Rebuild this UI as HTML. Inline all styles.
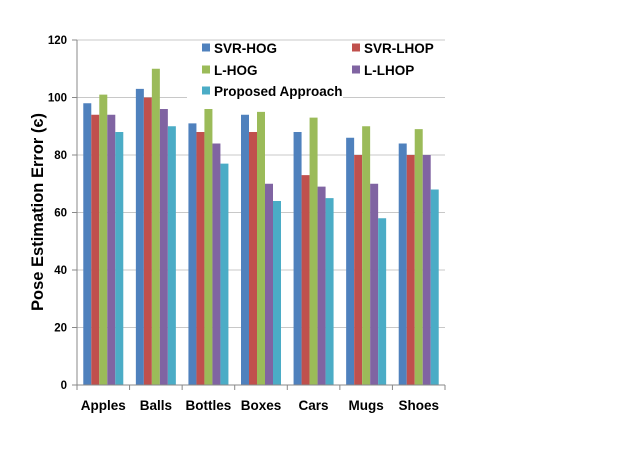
<!DOCTYPE html>
<html><head><meta charset="utf-8"><style>
body{margin:0;background:#fff;}
svg text{font-family:"Liberation Sans",sans-serif;font-weight:bold;fill:#000;}
</style></head><body>
<svg id="chart" width="623" height="450" xmlns="http://www.w3.org/2000/svg">
<g id="grid"></g>
<g id="bars"></g>
<g id="axes"></g>
<text x="43" y="212" transform="rotate(-90 43 212)" text-anchor="middle" font-size="16.5">Pose Estimation Error (є)</text>
<rect x="187" y="93" width="156" height="8" fill="#fff"/>
<g id="legend"></g>
</svg>
<script>
const categories=["Apples","Balls","Bottles","Boxes","Cars","Mugs","Shoes"];
const seriesNames=["SVR-HOG","SVR-LHOP","L-HOG","L-LHOP","Proposed Approach"];
const svrHog=[98,103,91,94,88,86,84];
const svrLhop=[94,100,88,88,73,80,80];
const lHog=[101,110,96,95,93,90,89];
const lLhop=[94,96,84,70,69,70,80];
const proposed=[88,90,77,64,65,58,68];
const yTicks=[0,20,40,60,80,100,120];
const series=[svrHog,svrLhop,lHog,lLhop,proposed];
const colors=["#4F81BD","#C0504D","#9BBB59","#8064A2","#4BACC6"];
const NS="http://www.w3.org/2000/svg";
const x0=77,x1=445,y0=385,yTop=40,yMax=120;
const y=v=>y0-(v/yMax)*(y0-yTop);
const bandW=(x1-x0)/categories.length;
const barW=8;
function mk(t,a,p){const e=document.createElementNS(NS,t);for(const k in a)e.setAttribute(k,a[k]);p.appendChild(e);return e;}
const grid=document.getElementById('grid'),bars=document.getElementById('bars'),axes=document.getElementById('axes'),legend=document.getElementById('legend');
yTicks.forEach(t=>{
 if(t>0){const l=mk('line',{x1:x0,x2:x1,y1:y(t),y2:y(t),stroke:'#c8c8c8','stroke-width':1},grid);
 
 }
 mk('line',{x1:x0-5,x2:x0,y1:y(t),y2:y(t),stroke:'#888'},axes);
 const tx=mk('text',{x:x0-10,y:y(t)+4,'text-anchor':'end','font-size':11.5},axes);tx.textContent=t;
 
 
});
mk('line',{x1:x0,x2:x0,y1:yTop,y2:y0,stroke:'#888'},axes);
mk('line',{x1:x0,x2:x1,y1:y0,y2:y0,stroke:'#888'},axes);
categories.forEach((c,i)=>{
 const bx=x0+i*bandW;
 mk('line',{x1:bx+bandW,x2:bx+bandW,y1:y0,y2:y0+5,stroke:'#888'},axes);
 const gx=bx+(bandW-barW*5)/2;
 series.forEach((s,j)=>{
  const r=mk('rect',{x:gx+j*barW,y:y(s[i]),width:barW,height:y0-y(s[i]),fill:colors[j]},bars);
  
  
 });
 const tx=mk('text',{x:bx+bandW/2,y:410,'text-anchor':'middle','font-size':13.5},axes);tx.textContent=c;
 
 
});
mk('line',{x1:x0,x2:x0,y1:y0,y2:y0+5,stroke:'#888'},axes);
const lpos=[[202,48],[352,48],[202,70],[352,70],[202,91]];
seriesNames.forEach((n,j)=>{
 const g=mk('g',{},legend);
 
 
 mk('rect',{x:lpos[j][0],y:lpos[j][1]-4.5,width:8,height:8,fill:colors[j]},g);
 const t=mk('text',{x:lpos[j][0]+12,y:lpos[j][1]+5,'font-size':13.5},g);t.textContent=n;
});
</script>
</body></html>
